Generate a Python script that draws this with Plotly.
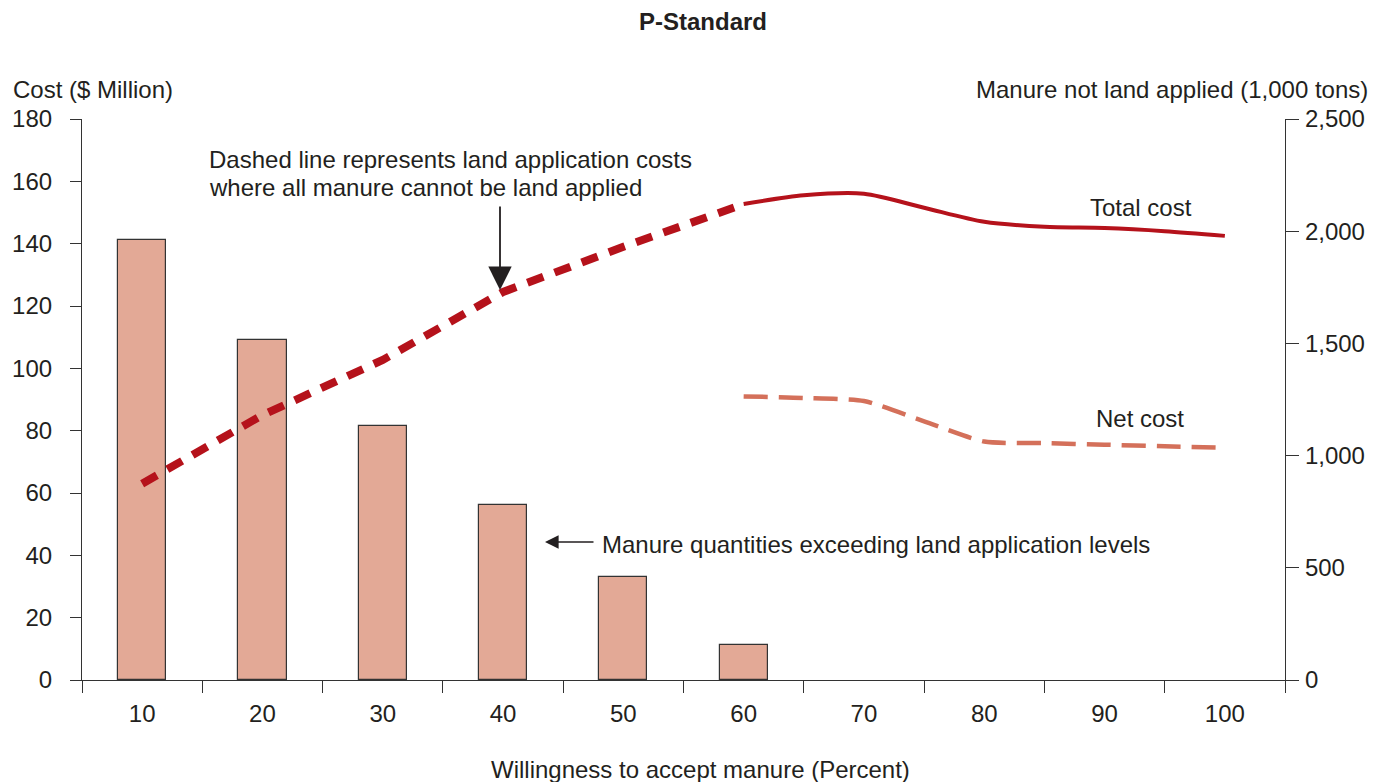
import plotly.graph_objects as go

# ---- data ----
categories = [10, 20, 30, 40, 50, 60, 70, 80, 90, 100]
bar_x = [10, 20, 30, 40, 50, 60]
manure_not_applied = [1960, 1515, 1132, 780, 459, 156]  # 1,000 tons

cost_dashed_x = [10, 20, 30, 40, 50, 60]
cost_dashed = [63, 85, 102.7, 124.5, 139, 152.7]  # $ Million

total_cost_x = [60, 65, 70, 75, 80, 85, 90, 95, 100]
total_cost = [152.7, 155.5, 156, 151.5, 147, 145.4, 145, 144, 142.5]

net_cost_x = [60, 65, 70, 75, 80, 85, 90, 95, 100]
net_cost = [91, 90.5, 89.5, 83, 76.5, 76, 75.5, 75, 74.5]

left_ticks = [0, 20, 40, 60, 80, 100, 120, 140, 160, 180]
right_ticks = [0, 500, 1000, 1500, 2000, 2500]

FONT = "Arial, Liberation Sans, sans-serif"
TXT = "#231F20"
AX = "#333333"
FS = 24

fig = go.Figure()

fig.add_trace(go.Bar(
    x=bar_x, y=manure_not_applied, width=4, yaxis="y",
    marker=dict(color="#E3A996", line=dict(color="#333333", width=1.2)),
    name="Manure quantities", showlegend=False,
))

fig.add_trace(go.Scatter(
    x=cost_dashed_x, y=cost_dashed, yaxis="y2", mode="lines",
    line=dict(color="#B5121B", width=8, dash="17px,12px"),
    showlegend=False,
))
fig.add_trace(go.Scatter(
    x=total_cost_x, y=total_cost, yaxis="y2", mode="lines",
    line=dict(color="#B5121B", width=4, shape="spline", smoothing=0.8),
    showlegend=False,
))
fig.add_trace(go.Scatter(
    x=net_cost_x, y=net_cost, yaxis="y2", mode="lines",
    line=dict(color="#D4705A", width=4.5, dash="24px,11px", shape="spline", smoothing=0.6),
    showlegend=False,
))

def px_x(px):
    return (px - 82) / 1203

def px_y(py):
    return (680 - py) / 561

annotations = [
    dict(text="Cost ($ Million)", x=px_x(11), y=px_y(89), xanchor="left", yanchor="middle"),
    dict(text="Manure not land applied (1,000 tons)", x=px_x(1370), y=px_y(89), xanchor="right", yanchor="middle"),
    dict(text="Dashed line represents land application costs", x=px_x(207), y=px_y(159), xanchor="left", yanchor="middle"),
    dict(text="where all manure cannot be land applied", x=px_x(207), y=px_y(187), xanchor="left", yanchor="middle"),
    dict(text="Total cost", x=px_x(1088), y=px_y(207), xanchor="left", yanchor="middle"),
    dict(text="Net cost", x=px_x(1094), y=px_y(418), xanchor="left", yanchor="middle"),
    dict(text="Manure quantities exceeding land application levels", x=px_x(600), y=px_y(544), xanchor="left", yanchor="middle"),
    dict(text="Willingness to accept manure (Percent)", x=px_x(700), y=px_y(769), xanchor="center", yanchor="middle"),
]
for a in annotations:
    a.update(xref="paper", yref="paper", showarrow=False, font=dict(family=FONT, size=FS, color=TXT))

# arrows
annotations.append(dict(
    text="", x=px_x(500), y=px_y(290), xref="paper", yref="paper",
    showarrow=True, ax=0, ay=-85, arrowhead=2, arrowsize=2.6, arrowwidth=1.8, arrowcolor="#231F20",
))
annotations.append(dict(
    text="", x=px_x(545), y=px_y(542), xref="paper", yref="paper",
    showarrow=True, ax=50, ay=0, arrowhead=2, arrowsize=1.7, arrowwidth=1.6, arrowcolor="#231F20",
))

W, H = 1390, 782
fig.update_layout(
    width=W, height=H,
    margin=dict(l=82, r=W - 1285, t=119, b=H - 680, autoexpand=False),
    paper_bgcolor="white", plot_bgcolor="white",
    font=dict(family=FONT, size=FS, color=TXT),
    title=dict(text="<b>P-Standard</b>", x=703 / W, xanchor="center", y=1 - 22 / H, yanchor="middle",
               font=dict(family=FONT, size=FS, color=TXT)),
    showlegend=False,
    bargap=0,
    annotations=annotations,
    xaxis=dict(
        range=[5, 105], tickvals=categories, ticktext=[str(c) for c in categories],
        ticks="", showline=True, linecolor=AX, linewidth=1.2, automargin=False,
        showgrid=False, zeroline=False, ticklabelstandoff=12,
        minor=dict(ticks="outside", tick0=5, dtick=10, ticklen=12, tickcolor=AX, tickwidth=1.2, showgrid=False),
        tickfont=dict(size=FS),
    ),
    yaxis=dict(
        range=[0, 2500], tickvals=right_ticks, tickformat=",", side="right",
        ticks="outside", ticklen=13, tickcolor=AX, tickwidth=1.2, automargin=False,
        showline=True, linecolor=AX, linewidth=1.2, showgrid=False, zeroline=False,
        ticklabelstandoff=1, tickfont=dict(size=FS),
    ),
    yaxis2=dict(
        range=[0, 180], tickvals=left_ticks, side="left", overlaying="y",
        ticks="outside", ticklen=11, tickcolor=AX, tickwidth=1.2, automargin=False,
        showline=True, linecolor=AX, linewidth=1.2, showgrid=False, zeroline=False,
        ticklabelstandoff=13, tickfont=dict(size=FS),
    ),
)

fig.write_html(
    "out.html",
    config={"displayModeBar": False},
    post_script="document.body.style.margin='0';document.body.style.overflow='hidden';",
)
